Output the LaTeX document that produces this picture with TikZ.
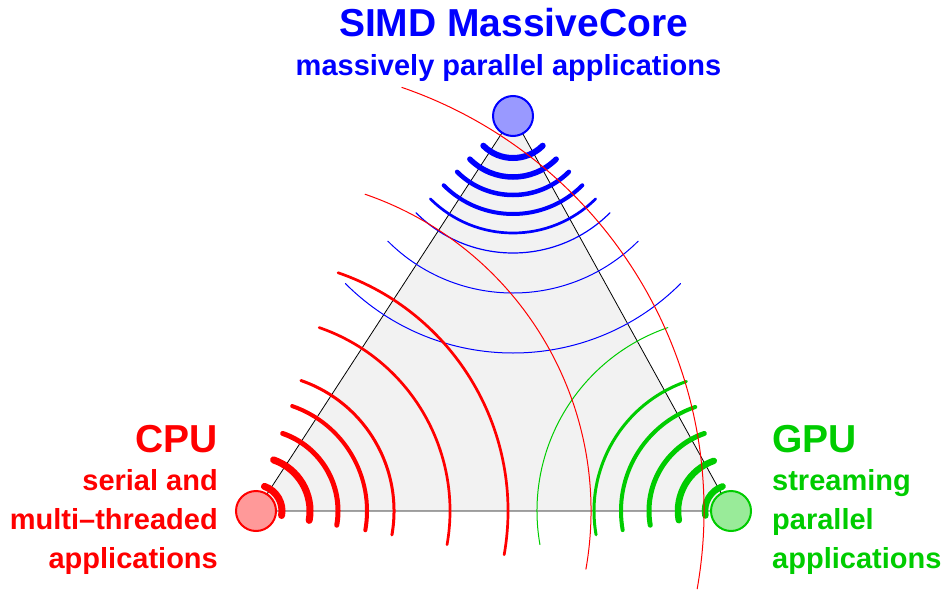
\documentclass[tikz,border=0pt]{standalone}
\usepackage{fontspec}
\setmainfont{Liberation Sans}
\definecolor{cpured}{RGB}{255,0,0}
\definecolor{gpugreen}{RGB}{0,204,0}
\definecolor{simdblue}{RGB}{0,0,255}
\tikzset{
  core/.style={circle, minimum size=40pt, inner sep=0pt, line width=2pt, draw=#1, fill=#1!40},
  wave/.style={draw=#1, line cap=round},
  bigtitle/.style={text=#1, font=\fontsize{39}{39}\selectfont\bfseries, inner sep=0pt},
  subtitle/.style={text=#1, font=\fontsize{29}{29}\selectfont\bfseries, inner sep=0pt},
}
\begin{document}
\begin{tikzpicture}[x=1pt, y=-1pt]
\useasboundingbox (0,0) rectangle (945,594);

% corner points of the design space
\coordinate (pc) at (256,511);
\coordinate (pg) at (731,511);
\coordinate (ps) at (513,116);

% shaded triangle
\draw[fill=black!5, draw=black, line width=0.8pt] (pc) -- (pg) -- (ps) -- cycle;

% SIMD waves
\foreach \r/\w in {42/6,61/5.5,79/4.5,98/4,117/2.7,137/1.2,177/1,237/1}
  \draw[wave=simdblue, line width=\w pt] (ps) ++(225:\r pt) arc[start angle=225, end angle=315, radius=\r pt];

% GPU waves
\foreach \r/\w in {26/6.5,53/6.5,82/5,110/4,137/3,194/1}
  \draw[wave=gpugreen, line width=\w pt] (pg) ++(109:\r pt) arc[start angle=109, end angle=190, radius=\r pt];

% CPU waves
\foreach \r/\w in {26/7,54/7,82/5,111/4,138/3,194/2.7,252/2.7,335/1,448/1}
  \draw[wave=cpured, line width=\w pt] (pc) ++(-10:\r pt) arc[start angle=-10, end angle=71, radius=\r pt];

% cores
\node[core=cpured] (cpu) at (pc) {};
\node[core=gpugreen] (gpu) at (pg) {};
\node[core=simdblue] (simd) at (ps) {};

% labels
\node[bigtitle=simdblue, anchor=base] (simdt) at (513.5,37) {SIMD MassiveCore};
\node[subtitle=simdblue, anchor=base] (simds) at (508.5,75) {massively parallel applications};

\node[bigtitle=cpured, anchor=base east] (cput) at (218,452) {CPU};
\node[subtitle=cpured, anchor=base east] (cpua) at (218,490.7) {serial and};
\node[subtitle=cpured, anchor=base east] (cpub) at (218,529.4) {multi–threaded};
\node[subtitle=cpured, anchor=base east] (cpuc) at (218,568) {applications};

\node[bigtitle=gpugreen, anchor=base west] (gput) at (772,452) {GPU};
\node[subtitle=gpugreen, anchor=base west] (gpua) at (772,490.7) {streaming};
\node[subtitle=gpugreen, anchor=base west] (gpub) at (772,529.4) {parallel};
\node[subtitle=gpugreen, anchor=base west] (gpuc) at (772,568) {applications};
\end{tikzpicture}
\end{document}
